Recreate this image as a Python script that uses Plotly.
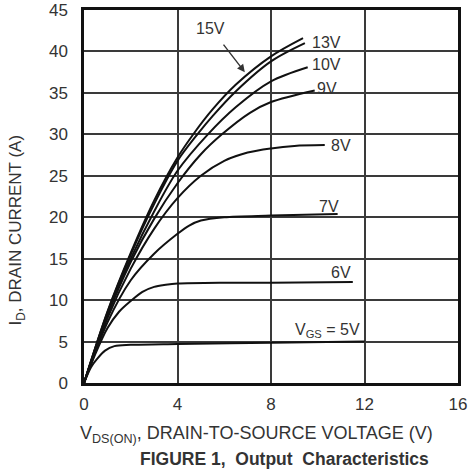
import plotly.graph_objects as go

# ---- data ----
vgs_15_x = [0, 1, 2, 3, 4, 4.7, 5.5, 6.5, 8, 9.37]
vgs_15_y = [0, 8.6, 15.7, 22.0, 27.2, 30.1, 33.0, 36.0, 39.4, 41.6]

vgs_13_x = [0, 1, 2, 3, 4, 4.85, 5.5, 6.5, 8, 9.45]
vgs_13_y = [0, 8.5, 15.5, 21.6, 26.8, 30.0, 32.2, 35.2, 38.8, 41.0]

vgs_10_x = [0, 1, 2, 3, 4, 5.3, 6.5, 8, 9.57]
vgs_10_y = [0, 8.3, 15.0, 20.7, 25.6, 30.0, 33.3, 36.4, 38.1]

vgs_9_x = [0, 1, 2, 3, 4, 5, 5.9, 7.1, 8, 9.87]
vgs_9_y = [0, 8.1, 14.6, 19.8, 24.1, 27.6, 30.0, 32.6, 33.9, 35.3]

vgs_8_x = [0, 1, 2, 3, 4, 5, 6, 7, 8, 9, 10.3]
vgs_8_y = [0, 7.8, 13.8, 18.6, 22.3, 25.0, 26.8, 27.8, 28.3, 28.6, 28.7]

vgs_7_x = [0, 1, 2, 3, 4, 4.5, 5, 6, 8, 10.85]
vgs_7_y = [0, 7.3, 12.4, 15.6, 18.0, 19.0, 19.6, 20.0, 20.2, 20.4]

vgs_6_x = [0, 0.5, 1, 1.5, 2, 2.5, 3, 3.5, 4, 6, 8, 11.5]
vgs_6_y = [0, 3.6, 6.6, 8.6, 9.9, 11.0, 11.6, 11.85, 12.0, 12.1, 12.1, 12.2]

vgs_5_x = [0, 0.3, 0.56, 0.9, 1.3, 2, 4, 8, 12]
vgs_5_y = [0, 1.9, 2.9, 3.9, 4.45, 4.6, 4.7, 4.85, 5.0]

curves = [
    (vgs_15_x, vgs_15_y), (vgs_13_x, vgs_13_y), (vgs_10_x, vgs_10_y),
    (vgs_9_x, vgs_9_y), (vgs_8_x, vgs_8_y), (vgs_7_x, vgs_7_y),
    (vgs_6_x, vgs_6_y), (vgs_5_x, vgs_5_y),
]

x_ticks = [0, 4, 8, 12, 16]
y_ticks = [0, 5, 10, 15, 20, 25, 30, 35, 40, 45]

# curve labels and positions
labels = ["13V", "10V", "9V", "8V", "7V", "6V", "V<sub>GS</sub> = 5V"]
label_x = [10.38, 10.38, 10.4, 11.0, 10.5, 11.0, 10.4]
label_y = [41.1, 38.4, 35.5, 28.7, 21.3, 13.3, 6.3]

FONT = "Liberation Sans, Arial, sans-serif"
TXT = "#333333"
NB = "\u00a0"

fig = go.Figure()
for xs, ys in curves:
    fig.add_trace(go.Scatter(
        x=xs, y=ys, mode="lines",
        line=dict(color="#111111", width=2, shape="spline", smoothing=0.9),
        showlegend=False, hoverinfo="skip"))

ann = []
for t, lx, ly in zip(labels, label_x, label_y):
    ann.append(dict(x=lx, y=ly, xref="x", yref="y", text=t, showarrow=False,
                    font=dict(family=FONT, size=16, color=TXT)))

# 15V with arrow
ann.append(dict(x=6.88, y=37.5, xref="x", yref="y", ax=5.43, ay=42.8,
                axref="x", ayref="y", text="15V", showarrow=True,
                arrowhead=2, arrowsize=1.1, arrowwidth=1.4, arrowcolor="#333333",
                standoff=0, startstandoff=8,
                font=dict(family=FONT, size=16, color=TXT)))

# x-axis title and caption
ann.append(dict(x=0.46, y=-0.139, xref="paper", yref="paper",
                text="V<sub>DS(ON)</sub>, DRAIN-TO-SOURCE VOLTAGE (V)",
                showarrow=False, xanchor="center", yanchor="middle",
                font=dict(family=FONT, size=18, color=TXT)))
ann.append(dict(x=0.535, y=-0.203, xref="paper", yref="paper",
                text="<b>FIGURE 1," + NB + NB + "Output" + NB + NB + "Characteristics</b>",
                showarrow=False, xanchor="center", yanchor="middle",
                font=dict(family=FONT, size=17.5, color=TXT)))
# y-axis title
ann.append(dict(x=-0.178, y=0.41, xref="paper", yref="paper",
                text="I<sub>D</sub>, DRAIN CURRENT (A)", textangle=-90,
                showarrow=False, xanchor="center", yanchor="middle",
                font=dict(family=FONT, size=17, color=TXT)))

fig.update_layout(
    width=470, height=472,
    margin=dict(l=84, r=12, t=10, b=89, autoexpand=False),
    paper_bgcolor="white", plot_bgcolor="white",
    annotations=ann,
    font=dict(family=FONT, color=TXT),
    xaxis=dict(range=[0, 16], tickvals=x_ticks, showgrid=True, automargin=False,
               gridcolor="#3a3a3a", gridwidth=1.5,
               showline=True, linecolor="#111111", linewidth=2.5, mirror=True,
               zeroline=False, ticks="", ticklabelstandoff=4,
               tickfont=dict(family=FONT, size=17, color=TXT)),
    yaxis=dict(range=[0, 45], tickvals=y_ticks, showgrid=True, automargin=False,
               gridcolor="#3a3a3a", gridwidth=1.5,
               showline=True, linecolor="#111111", linewidth=2.5, mirror=True,
               zeroline=False, ticks="", ticklabelstandoff=10,
               tickfont=dict(family=FONT, size=17, color=TXT)),
)

fig.write_html("out.html")
